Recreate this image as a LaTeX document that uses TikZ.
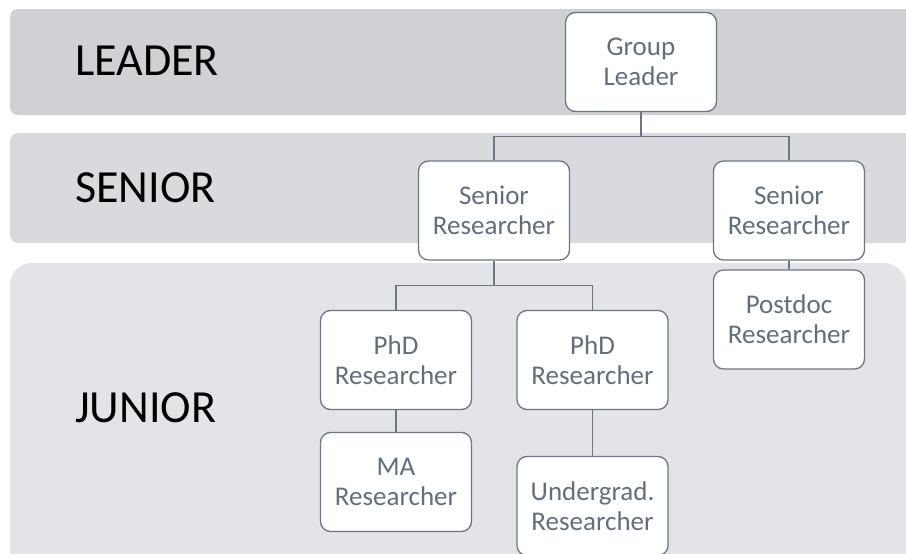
\documentclass[tikz,border=0pt]{standalone}
\usepackage{fontspec}
\setmainfont{Carlito}
\definecolor{bandLeader}{RGB}{208,209,213}
\definecolor{bandSenior}{RGB}{217,218,222}
\definecolor{bandJunior}{RGB}{227,228,232}
\definecolor{boxLine}{RGB}{108,118,133}
\definecolor{boxText}{RGB}{98,110,126}
\tikzset{
  rolebox/.style={draw=boxLine, line width=1.3pt, fill=white, rounded corners=10pt,
    minimum width=151pt, minimum height=99pt, align=center, text=boxText,
    font=\fontsize{27}{30}\selectfont, inner sep=0pt},
  levellabel/.style={anchor=base west, font=\fontsize{46}{50}\selectfont, text=black, inner sep=0pt},
  conn/.style={draw=boxLine, line width=1.3pt},
}
\begin{document}
\begin{tikzpicture}[x=1pt,y=-1pt]
  \useasboundingbox (0,0) rectangle (906,554);
  \clip (0,0) rectangle (906,554);
  % level bands
  \fill[bandLeader, rounded corners=8pt] (10,9) rectangle (930,115);
  \fill[bandSenior, rounded corners=8pt] (10,133) rectangle (930,243);
  \fill[bandJunior, rounded corners=22pt] (10,263) rectangle (906,620);
  % level labels
  \node[levellabel] (lblLeader) at (75,75) {LEADER};
  \node[levellabel] (lblSenior) at (75,202) {SENIOR};
  \node[levellabel] (lblJunior) at (75,422) {JUNIOR};
  % roles
  \node[rolebox] (gl)  at (641,62)    {Group\\Leader};
  \node[rolebox] (s1)  at (494,210.5) {Senior\\Researcher};
  \node[rolebox] (s2)  at (789,210.5) {Senior\\Researcher};
  \node[rolebox] (pd)  at (789,319.5) {Postdoc\\Researcher};
  \node[rolebox] (p1)  at (396,360)   {PhD\\Researcher};
  \node[rolebox] (p2)  at (592.5,360) {PhD\\Researcher};
  \node[rolebox] (ma)  at (396,482)   {MA\\Researcher};
  \node[rolebox] (ug)  at (592.5,506) {Undergrad.\\Researcher};
  % reporting lines
  \draw[conn] (gl.south) -- ++(0,24) -| (s1.north);
  \draw[conn] (gl.south) -- ++(0,24) -| (s2.north);
  \draw[conn] (s1.south) -- ++(0,24.5) -| (p1.north);
  \draw[conn] (s1.south) -- ++(0,24.5) -| (p2.north);
  \draw[conn] (s2.south) -- (pd.north);
  \draw[conn] (p1.south) -- (ma.north);
  \draw[conn] (p2.south) -- (ug.north);
\end{tikzpicture}
\end{document}
